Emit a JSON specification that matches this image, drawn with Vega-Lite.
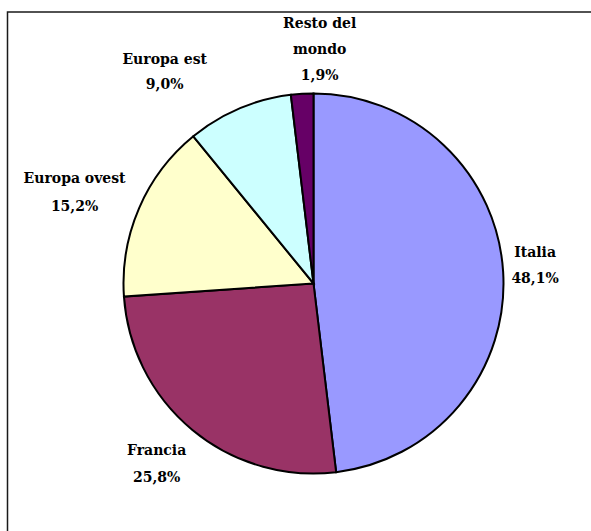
{
  "$schema": "https://vega.github.io/schema/vega-lite/v6.json",
  "autosize": {"type": "none"},
  "width": 583.5,
  "height": 519,
  "padding": {"left": 7.5, "top": 12, "right": 0, "bottom": 0},
  "background": "#ffffff",
  "view": {"stroke": "#1a1a1a", "strokeWidth": 1.5, "fill": "#ffffff", "strokeDash": [583.5, 1102.5, 519]},
  "data": {
    "values": [
      {"region": "Italia", "share": 48.1, "label": "Italia\n48,1%"},
      {"region": "Francia", "share": 25.8, "label": "Francia\n25,8%"},
      {"region": "Europa ovest", "share": 15.2, "label": "Europa ovest\n15,2%"},
      {"region": "Europa est", "share": 9.0, "label": "Europa est\n9,0%"},
      {"region": "Resto del mondo", "share": 1.9, "label": "Resto del\nmondo\n1,9%"}
    ]
  },
  "encoding": {
    "theta": {"field": "share", "type": "quantitative", "stack": true},
    "order": {"field": "share", "type": "quantitative", "sort": "descending"}
  },
  "layer": [
    {
      "mark": {"type": "arc", "outerRadius": 190, "xOffset": 14.25, "yOffset": 12, "stroke": "#000000", "strokeWidth": 2},
      "encoding": {
        "color": {
          "field": "region",
          "type": "nominal",
          "legend": null,
          "scale": {
            "domain": ["Italia", "Francia", "Europa ovest", "Europa est", "Resto del mondo"],
            "range": ["#9999FF", "#993366", "#FFFFCC", "#CCFFFF", "#660066"]
          }
        }
      }
    },
    {
      "mark": {"type": "text", "radius": 232, "dx": 4.25, "dy": -5, "font": "DejaVu Serif", "fontWeight": "bold", "fontSize": 14, "lineBreak": "\n", "lineHeight": 26, "align": "center", "baseline": "middle", "color": "#000000"},
      "encoding": {
        "text": {"condition": {"test": "datum.region !== 'Italia'", "value": ""}, "field": "label", "type": "nominal"}
      }
    },
    {
      "mark": {"type": "text", "radius": 232, "dx": 5.25, "dy": 1, "font": "DejaVu Serif", "fontWeight": "bold", "fontSize": 14, "lineBreak": "\n", "lineHeight": 27, "align": "center", "baseline": "middle", "color": "#000000"},
      "encoding": {
        "text": {"condition": {"test": "datum.region !== 'Francia'", "value": ""}, "field": "label", "type": "nominal"}
      }
    },
    {
      "mark": {"type": "text", "radius": 232, "dx": -11.75, "dy": 0, "font": "DejaVu Serif", "fontWeight": "bold", "fontSize": 14, "lineBreak": "\n", "lineHeight": 28, "align": "center", "baseline": "middle", "color": "#000000"},
      "encoding": {
        "text": {"condition": {"test": "datum.region !== 'Europa ovest'", "value": ""}, "field": "label", "type": "nominal"}
      }
    },
    {
      "mark": {"type": "text", "radius": 232, "dx": -43.75, "dy": 2, "font": "DejaVu Serif", "fontWeight": "bold", "fontSize": 14, "lineBreak": "\n", "lineHeight": 25, "align": "center", "baseline": "middle", "color": "#000000"},
      "encoding": {
        "text": {"condition": {"test": "datum.region !== 'Europa est'", "value": ""}, "field": "label", "type": "nominal"}
      }
    },
    {
      "mark": {"type": "text", "radius": 232, "dx": 34.25, "dy": -16, "font": "DejaVu Serif", "fontWeight": "bold", "fontSize": 14, "lineBreak": "\n", "lineHeight": 26, "align": "center", "baseline": "middle", "color": "#000000"},
      "encoding": {
        "text": {"condition": {"test": "datum.region !== 'Resto del mondo'", "value": ""}, "field": "label", "type": "nominal"}
      }
    }
  ]
}
